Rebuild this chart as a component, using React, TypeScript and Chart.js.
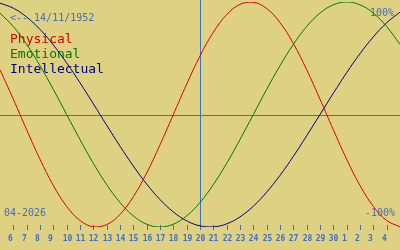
import React, { useEffect, useRef } from "react";
import { Chart, registerables } from "chart.js";

Chart.register(...registerables);

// Days shown: 5 April 2026 .. 5 May 2026
const dayLabels = [
  "5", "6", "7", "8", "9", "10", "11", "12", "13", "14", "15", "16", "17", "18", "19", "20",
  "21", "22", "23", "24", "25", "26", "27", "28", "29", "30", "1", "2", "3", "4", "5",
];
const shownTicks = dayLabels.slice(1, dayLabels.length - 1);

const physical = [
  0.398, 0.136, -0.136, -0.398, -0.631, -0.817, -0.942, -0.998, -0.979, -0.888, -0.731, -0.52,
  -0.27, 0, 0.27, 0.52, 0.731, 0.888, 0.979, 0.998, 0.942, 0.817, 0.631, 0.398, 0.136, -0.136,
  -0.398, -0.631, -0.817, -0.942, -0.998,
];
const emotional = [
  0.901, 0.782, 0.623, 0.434, 0.223, 0, -0.223, -0.434, -0.623, -0.782, -0.901, -0.975, -1.0,
  -0.975, -0.901, -0.782, -0.623, -0.434, -0.223, 0, 0.223, 0.434, 0.623, 0.782, 0.901, 0.975,
  1.0, 0.975, 0.901, 0.782, 0.623,
];
const intellectual = [
  0.99, 0.945, 0.866, 0.756, 0.618, 0.458, 0.282, 0.095, -0.095, -0.282, -0.458, -0.618, -0.756,
  -0.866, -0.945, -0.99, -0.999, -0.972, -0.91, -0.815, -0.69, -0.541, -0.372, -0.189, 0, 0.189,
  0.372, 0.541, 0.69, 0.815, 0.91,
];

const seriesNames = ["Physical", "Emotional", "Intellectual"];
const seriesColors = ["#dd0000", "#007a00", "#000080"];
const todayIndex = 15; // 20 April
const birthText = "<-- 14/11/1952";
const monthText = "04-2026";
const topText = "100%";
const bottomText = "-100%";

const BG = "#dfd182";
const TEXT_BLUE = "#3f6fc0";
const LINE_BLUE = "#3a70c8";

const decorPlugin = {
  id: "decor",
  beforeDatasetsDraw(chart: any) {
    const ctx = chart.ctx as CanvasRenderingContext2D;
    const xs = chart.scales.x;
    const ys = chart.scales.y;
    const y0 = ys.getPixelForValue(0);
    ctx.save();
    ctx.fillStyle = LINE_BLUE;
    // zero line
    ctx.fillRect(0, Math.round(y0), chart.width, 1);
    // today line
    ctx.fillRect(Math.round(xs.getPixelForValue(todayIndex)), 0, 1, 230);
    // ticks and labels
    ctx.fillStyle = TEXT_BLUE;
    ctx.font = "bold 8px 'DejaVu Sans Mono'";
    ctx.textAlign = "left";
    ctx.textBaseline = "alphabetic";
    shownTicks.forEach((lab, i) => {
      const px = Math.round(xs.getPixelForValue(i + 1));
      ctx.fillRect(px, 225, 1, 5);
      const w = ctx.measureText(lab).width;
      const left = lab.length > 1 ? px - w / 2 + 0.5 : px - 5;
      ctx.fillText(lab, left, 241);
    });
    // texts
    ctx.font = "10px 'DejaVu Sans Mono'";
    ctx.fillText(birthText, 10, 21);
    ctx.fillText(monthText, 4, 216);
    ctx.textAlign = "right";
    ctx.fillText(topText, 394, 16);
    ctx.fillText(bottomText, 395, 216);
    ctx.textAlign = "left";
    ctx.font = "13px 'DejaVu Sans Mono'";
    seriesNames.forEach((n, i) => {
      ctx.fillStyle = seriesColors[i];
      ctx.fillText(n, 10, 43 + i * 15);
    });
    ctx.restore();
  },
};

export default function App() {
  const ref = useRef<HTMLCanvasElement>(null);
  useEffect(() => {
    document.body.style.margin = "0";
    const chart = new Chart(ref.current!, {
      type: "line",
      data: {
        labels: dayLabels,
        datasets: [physical, emotional, intellectual].map((d, i) => ({
          label: seriesNames[i],
          data: d,
          borderColor: seriesColors[i],
          borderWidth: 1,
          pointRadius: 0,
          tension: 0.4,
          fill: false,
        })),
      },
      options: {
        animation: false,
        responsive: false,
        maintainAspectRatio: false,
        layout: { padding: { top: 2, bottom: 23, left: 0, right: 0 } },
        plugins: { legend: { display: false }, tooltip: { enabled: false } },
        scales: {
          x: { type: "category", display: false, offset: false },
          y: { display: false, min: -1, max: 1 },
        },
      },
      plugins: [decorPlugin],
    });
    return () => chart.destroy();
  }, []);
  return (
    <div style={{ position: "fixed", left: 0, top: 0, width: 400, height: 250, background: BG }}>
      <canvas ref={ref} width={400} height={250} style={{ display: "block" }} />
    </div>
  );
}
